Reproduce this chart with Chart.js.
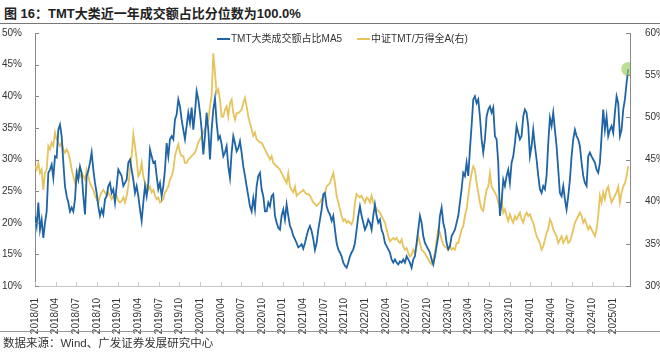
<!DOCTYPE html>
<html>
<head>
<meta charset="utf-8">
<script src="https://cdn.jsdelivr.net/npm/chart.js@4.4.1/dist/chart.umd.min.js"></script>
<style>
  body { margin: 0; background: #fff; width: 660px; height: 352px; overflow: hidden; position: relative;
         font-family: 'Liberation Sans', 'Noto Sans CJK SC', sans-serif; }
  #title { position: absolute; left: 4px; top: 3px; font-size: 13px; font-weight: bold; color: #222; white-space: nowrap; }
  #rule-top { position: absolute; left: 0; top: 23px; width: 660px; height: 1px; background: #777; }
  #rule-bottom { position: absolute; left: 0; top: 331px; width: 660px; height: 1px; background: #999; }
  #source { position: absolute; left: 3px; top: 334px; font-size: 11.5px; color: #333; white-space: nowrap; }
  canvas { position: absolute; left: 0; top: 0; }
</style>
</head>
<body>
<div id="title">图 16：TMT大类近一年成交额占比分位数为100.0%</div>
<div id="rule-top"></div>
<canvas id="chart" width="660" height="352"></canvas>
<div id="rule-bottom"></div>
<div id="source">数据来源：Wind、广发证券发展研究中心</div>
<script>
// 季度刻度标签
const X_LABELS = ['2018/01','2018/04','2018/07','2018/10','2019/01','2019/04','2019/07','2019/10',
  '2020/01','2020/04','2020/07','2020/10','2021/01','2021/04','2021/07','2021/10',
  '2022/01','2022/04','2022/07','2022/10','2023/01','2023/04','2023/07','2023/10',
  '2024/01','2024/04','2024/07','2024/10','2025/01'];
const STEP = 0.2422;      // 采样间隔(月)
const X_MAX = 86.48;      // 横轴右端(月)

// TMT大类成交额占比MA5 (左轴, %)
const TMT_SHARE = [
  21.1,19.5,23.2,18.9,20.5,17.6,20.0,21.8,27.9,28.4,
  29.2,27.1,30.5,30.3,34.7,35.5,33.7,29.5,25.8,24.2,
  23.2,21.8,22.4,21.8,23.7,27.9,26.8,28.9,27.9,24.2,
  21.3,27.4,28.2,29.5,31.1,28.4,26.3,24.7,22.6,21.1,
  22.1,21.3,23.7,24.2,25.8,26.3,24.7,25.3,23.2,25.8,
  28.4,27.9,27.4,25.8,26.3,26.8,29.5,30.0,28.4,26.8,
  24.7,25.8,24.2,22.1,20.3,23.2,25.8,24.2,26.3,31.6,
  30.5,29.5,29.7,27.4,25.3,26.3,24.2,25.8,28.4,32.6,
  30.5,33.2,33.7,33.2,36.3,37.1,39.5,38.4,36.3,34.7,
  33.2,35.3,37.4,35.8,38.2,34.7,37.4,40.8,39.5,37.4,
  34.7,30.8,33.7,37.4,34.7,30.0,34.7,37.9,39.7,35.8,
  33.2,33.7,32.4,30.5,31.1,32.1,28.9,27.1,31.1,33.7,
  32.6,31.3,31.8,32.9,31.1,28.9,27.4,25.8,24.2,22.6,
  21.8,23.9,22.1,25.8,27.4,27.9,25.3,24.2,21.8,21.8,
  23.2,22.6,24.2,24.5,21.1,20.0,19.2,18.9,21.1,22.1,
  20.5,22.9,21.1,19.5,18.9,17.9,17.4,16.8,16.1,16.3,
  16.6,15.9,16.8,17.9,18.9,19.5,18.7,17.4,15.7,16.8,
  18.9,20.5,22.1,24.5,24.7,22.6,21.8,21.3,20.3,21.1,
  18.9,16.8,15.8,15.3,14.7,13.7,13.2,12.9,13.7,14.7,
  15.3,15.8,16.8,18.9,21.1,22.6,21.1,20.0,18.9,19.5,
  20.5,20.0,18.9,21.1,22.9,21.1,20.0,20.5,18.9,18.2,
  16.8,16.3,15.8,15.3,14.2,13.7,14.2,13.7,13.4,13.9,
  13.7,14.2,13.7,14.7,14.2,13.7,12.9,14.2,14.7,16.8,
  18.9,21.1,20.0,17.9,16.8,16.3,15.8,15.3,14.2,13.4,
  14.7,16.3,17.9,21.1,22.4,20.0,18.9,16.8,15.8,16.3,
  17.9,18.4,18.9,20.0,21.1,23.2,25.3,27.9,27.4,29.5,
  27.4,31.6,35.3,39.5,40.0,38.9,39.5,36.8,33.2,31.1,
  33.2,36.8,37.9,38.4,37.4,38.2,33.7,33.2,29.5,21.1,
  23.2,26.8,25.8,27.4,28.4,26.3,29.5,30.5,32.6,35.3,
  34.2,33.2,33.7,36.8,37.9,37.4,35.3,30.5,32.1,34.7,
  32.1,30.0,27.4,25.3,24.7,25.8,25.3,27.4,32.6,36.6,
  35.3,37.4,34.7,32.1,28.4,24.7,24.2,25.8,23.7,22.1,
  24.2,26.8,30.5,33.2,34.7,33.7,33.2,32.1,29.5,27.4,
  26.3,25.8,30.5,31.1,30.5,30.0,29.5,28.4,27.9,29.5,
  33.7,37.9,34.7,36.8,33.7,34.7,35.3,34.2,37.4,40.0,
  38.9,33.7,34.7,37.9,39.5,42.1,44.3
];

// 中证TMT/万得全A (右轴, %)
const TMT_RATIO = [
  44.2,43.8,44.6,43.4,43.8,41.4,43.4,43.8,46.6,46.2,
  47.0,46.6,48.2,47.4,47.0,46.6,47.0,46.2,45.8,46.2,
  45.8,45.0,43.8,43.0,42.2,43.4,43.8,43.0,43.4,43.0,
  42.6,43.8,43.0,42.2,41.8,41.4,40.7,40.3,39.9,40.7,
  41.1,41.4,41.1,40.7,41.1,40.7,40.3,40.7,40.3,40.7,
  40.1,39.9,40.1,40.5,39.9,40.7,41.8,43.8,45.4,48.0,
  46.6,45.0,43.0,43.4,44.6,43.0,42.2,41.8,41.4,41.8,
  41.1,41.4,40.7,40.3,40.5,39.9,40.1,40.3,41.1,41.4,
  41.8,42.6,43.0,43.8,45.4,46.2,46.8,45.8,45.4,45.4,
  44.6,44.6,45.0,45.2,45.4,45.6,45.8,46.4,47.0,47.4,
  47.8,48.2,48.6,49.3,49.7,51.3,52.5,57.6,55.3,52.9,
  53.3,52.1,50.1,50.1,50.9,51.3,50.1,51.7,52.1,50.5,
  49.7,50.5,50.5,50.7,50.9,51.7,52.3,51.3,50.1,49.3,
  48.6,47.8,48.2,47.4,47.2,47.0,47.0,46.6,46.2,45.8,
  45.4,45.0,45.4,44.6,44.4,44.2,44.0,43.8,43.4,43.0,
  42.6,42.2,43.4,41.8,41.4,41.1,41.8,40.7,40.9,41.1,
  41.2,41.4,41.1,40.9,40.9,40.7,40.3,39.9,39.7,39.5,
  39.7,39.9,40.3,40.5,41.1,41.8,42.0,42.2,42.8,43.4,
  42.2,40.7,39.9,39.1,38.3,37.7,37.9,37.5,37.7,37.5,
  37.3,37.9,39.9,40.9,40.7,40.5,40.7,40.3,39.9,40.5,
  40.3,39.9,40.7,39.9,39.5,39.1,38.9,38.7,38.3,37.9,
  37.5,36.7,35.9,35.3,35.5,35.7,35.5,35.7,35.3,35.1,
  35.5,34.7,34.3,34.5,33.9,33.5,33.7,34.3,33.9,34.7,
  35.9,35.1,34.3,34.1,33.9,33.5,33.2,32.8,32.6,33.2,
  33.9,35.5,36.7,36.3,35.5,34.9,34.7,34.5,34.3,34.7,
  34.3,34.5,34.3,35.1,35.1,35.9,36.7,37.1,38.3,39.1,
  40.7,42.2,43.4,44.2,43.8,42.2,41.1,39.9,39.1,38.9,
  40.3,41.4,41.8,43.4,41.8,41.4,41.1,40.7,39.9,39.1,
  40.3,38.7,39.1,38.3,37.7,38.5,37.9,37.5,38.3,37.9,
  38.3,38.7,37.9,37.5,38.3,38.7,38.3,38.5,37.9,37.5,
  36.7,35.9,35.5,35.1,34.3,34.7,35.5,36.3,36.7,37.9,
  37.5,36.7,36.3,35.9,35.1,35.5,35.9,35.1,35.5,35.9,
  35.1,35.3,35.9,36.7,37.5,37.9,38.3,38.7,38.3,37.5,
  37.9,37.3,36.7,37.1,36.7,36.3,35.9,36.7,38.3,40.7,
  39.9,41.1,40.3,41.4,41.8,40.7,39.9,40.3,40.7,41.1,
  41.8,39.9,41.1,41.8,42.2,43.0,44.2
];

const BLUE = '#1f64a6';
const GOLD = '#e6c35c';
const TICK_FONT = { family: "'Liberation Sans', Arial, sans-serif", size: 10 };

// 图例画在绘图区内部顶端
const topLegend = {
  id: 'topLegend',
  afterDraw(chart) {
    const c = chart.ctx;
    c.save();
    c.font = "10px 'Liberation Sans', 'Noto Sans CJK SC', sans-serif";
    c.textBaseline = 'middle';
    let x = 217;
    const y = 39;
    chart.data.datasets.forEach(ds => {
      c.strokeStyle = ds.borderColor;
      c.lineWidth = 2;
      c.beginPath();
      c.moveTo(x, y);
      c.lineTo(x + 13, y);
      c.stroke();
      c.fillStyle = '#333';
      c.fillText(ds.label, x + 14, y);
      x += 14 + c.measureText(ds.label).width + 15;
    });
    c.restore();
  }
};

// 坐标轴内侧刻度线
const innerTicks = {
  id: 'innerTicks',
  afterDraw(chart) {
    const c = chart.ctx;
    const a = chart.chartArea;
    c.save();
    c.lineWidth = 1;
    c.strokeStyle = '#888';
    chart.scales.y.ticks.forEach(t => {
      const py = Math.round(chart.scales.y.getPixelForValue(t.value)) + 0.5;
      c.beginPath(); c.moveTo(a.left, py); c.lineTo(a.left + 4, py); c.stroke();
    });
    chart.scales.y1.ticks.forEach(t => {
      const py = Math.round(chart.scales.y1.getPixelForValue(t.value)) + 0.5;
      c.beginPath(); c.moveTo(a.right - 4, py); c.lineTo(a.right, py); c.stroke();
    });
    c.strokeStyle = '#c8c8c8';
    chart.scales.x.ticks.forEach(t => {
      const px = Math.round(chart.scales.x.getPixelForValue(t.value)) + 0.5;
      c.beginPath(); c.moveTo(px, a.bottom); c.lineTo(px, a.bottom - 4); c.stroke();
    });
    c.restore();
  }
};

const lastIdx = TMT_SHARE.length - 1;

new Chart(document.getElementById('chart'), {
  type: 'line',
  data: {
    datasets: [
      {
        label: 'TMT大类成交额占比MA5',
        data: TMT_SHARE.map((v, i) => ({ x: i * STEP, y: v })),
        borderColor: BLUE,
        borderWidth: 1.8,
        tension: 0,
        yAxisID: 'y',
        pointRadius: ctx => ctx.dataIndex === lastIdx ? 7 : 0,
        pointHoverRadius: 0,
        pointBackgroundColor: 'rgba(150, 206, 90, 0.65)',
        pointBorderWidth: 0
      },
      {
        label: '中证TMT/万得全A(右)',
        data: TMT_RATIO.map((v, i) => ({ x: i * STEP, y: v })),
        borderColor: GOLD,
        borderWidth: 1.8,
        tension: 0,
        yAxisID: 'y1',
        pointRadius: 0
      }
    ]
  },
  options: {
    responsive: false,
    animation: false,
    devicePixelRatio: 1,
    layout: { padding: { left: 0, right: 0, top: 33, bottom: 0 } },
    plugins: { legend: { display: false }, tooltip: { enabled: false } },
    scales: {
      x: {
        type: 'linear',
        min: 0,
        max: X_MAX,
        afterBuildTicks: s => { s.ticks = X_LABELS.map((_, k) => ({ value: k * 3 })); },
        afterFit: s => { s.height = 66; },
        grid: { display: false },
        border: { display: true, color: '#c8c8c8', width: 1 },
        ticks: {
          autoSkip: false,
          minRotation: 90,
          maxRotation: 90,
          padding: 4,
          color: '#333',
          font: TICK_FONT,
          callback: v => X_LABELS[Math.round(v / 3)]
        }
      },
      y: {
        position: 'left',
        min: 10,
        max: 50,
        afterFit: s => { s.width = 35; },
        grid: { display: false },
        border: { display: true, color: '#888', width: 1 },
        ticks: { stepSize: 5, padding: 5, color: '#333', font: TICK_FONT, callback: v => v + '%' }
      },
      y1: {
        position: 'right',
        min: 30,
        max: 60,
        afterFit: s => { s.width = 30; },
        grid: { display: false },
        border: { display: true, color: '#888', width: 1 },
        ticks: { stepSize: 5, padding: 7, color: '#333', font: TICK_FONT, callback: v => v + '%' }
      }
    }
  },
  plugins: [topLegend, innerTicks]
});
</script>
</body>
</html>
